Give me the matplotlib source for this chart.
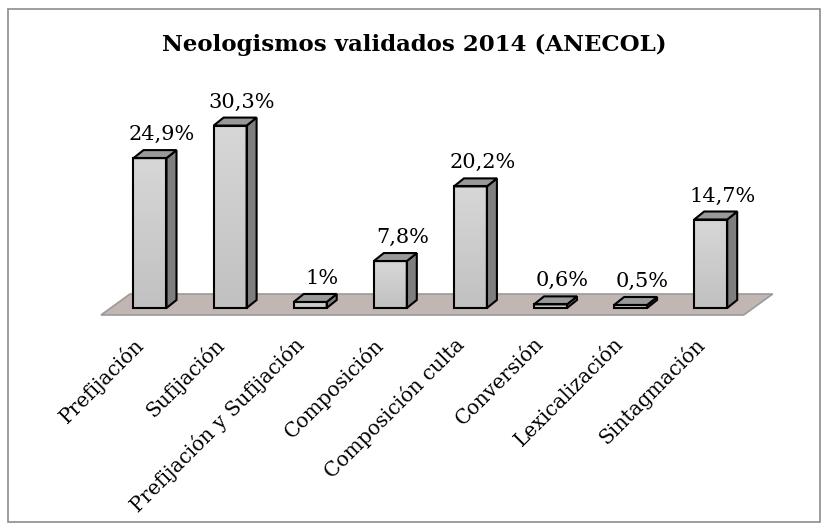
import numpy as np
import matplotlib
matplotlib.use("Agg")
import matplotlib.pyplot as plt
from matplotlib.patches import Polygon, Rectangle
from matplotlib.colors import LinearSegmentedColormap

# Data
categories = ["Prefijación", "Sufijación", "Prefijación y Sufijación", "Composición",
              "Composición culta", "Conversión", "Lexicalización", "Sintagmación"]
values = [24.9, 30.3, 1.0, 7.8, 20.2, 0.6, 0.5, 14.7]
value_labels = ["24,9%", "30,3%", "1%", "7,8%", "20,2%", "0,6%", "0,5%", "14,7%"]
title = "Neologismos validados 2014 (ANECOL)"

plt.rcParams['font.family'] = ['DejaVu Serif']

W, H = 829, 531
fig = plt.figure(figsize=(W / 100, H / 100), dpi=100)
ax = fig.add_axes([0, 0, 1, 1])

# scale: pixels per category step / per percent point
sx = 80.1
sy = 6.02
x0_px, y0_px = 150, 308   # first bar centre, baseline (image pixels)
ax.set_xlim(-x0_px / sx, (W - x0_px) / sx)
ax.set_ylim((y0_px - H) / sy, y0_px / sy)
ax.axis("off")

bw = 33 / sx          # bar width
ddx = 10 / sx         # 3d depth offset
ddy = 8 / sy

# chart border
fig.patches.append(Rectangle((8 / W, 1 - 522 / H), 812 / W, 513 / H,
                             transform=fig.transFigure, fill=False,
                             edgecolor="#8c8c8c", lw=1.2))

# floor
n = len(values)
fl = -49 / sx
fr = (n - 1) + 33 / sx
fy0 = -7 / sy
fdx, fdy = 29 / sx, 21 / sy
floor = Polygon([(fl, fy0), (fr, fy0), (fr + fdx, fy0 + fdy), (fl + fdx, fy0 + fdy)],
                closed=True, facecolor="#c2b6b3", edgecolor="#9a9a9a", lw=1.2, zorder=1)
ax.add_patch(floor)

front_cmap = LinearSegmentedColormap.from_list("front", ["#c1c1c1", "#d7d7d7"])
grad = np.linspace(0, 1, 100).reshape(-1, 1)
for i, v in enumerate(values):
    xl, xr = i - bw / 2, i + bw / 2
    # side
    side = Polygon([(xr, 0), (xr + ddx, ddy), (xr + ddx, v + ddy), (xr, v)],
                   closed=True, facecolor="#7f7f7f", edgecolor="black", lw=1.5, zorder=3)
    ax.add_patch(side)
    # top
    top = Polygon([(xl, v), (xr, v), (xr + ddx, v + ddy), (xl + ddx, v + ddy)],
                  closed=True, facecolor="#999999", edgecolor="black", lw=1.5, zorder=3)
    ax.add_patch(top)
    # front with gradient
    front = Rectangle((xl, 0), bw, v, facecolor="none", edgecolor="black", lw=1.5, zorder=4)
    ax.add_patch(front)
    im = ax.imshow(grad, extent=(xl, xr, 0, v), origin="lower", cmap=front_cmap,
                   aspect="auto", zorder=2.5)
    im.set_clip_path(front)
    # value label
    ax.text(i + 12 / sx, v + ddy + 6 / sy, value_labels[i], ha="center", va="bottom",
            fontsize=15, color="black", zorder=5)
    # category label
    ax.text(i - 17 / sx, (y0_px - 334) / sy, categories[i], rotation=45,
            rotation_mode="anchor", ha="right", va="top", fontsize=14.5, color="black")

ax.set_xlim(-x0_px / sx, (W - x0_px) / sx)
ax.set_ylim((y0_px - H) / sy, y0_px / sy)

fig.text(0.5, 1 - 45 / H, title, ha="center", va="center", fontsize=16.5,
         fontweight="bold")

fig.savefig("out.png", dpi=100)
